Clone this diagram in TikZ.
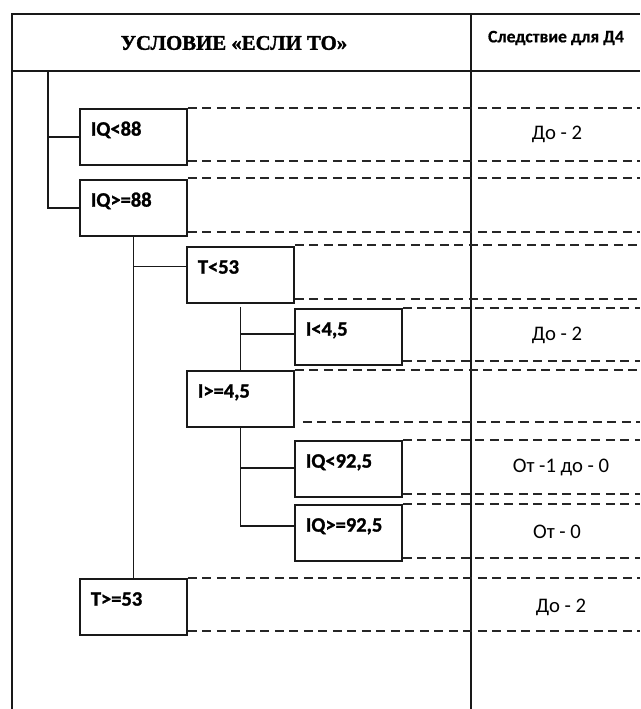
\documentclass[tikz,border=0pt]{standalone}
\usepackage{fontspec}
\setmainfont{Carlito}
\newfontfamily\titlefont{Liberation Serif Bold}[FakeBold=1.6]
\newfontfamily\boldsans{Carlito Bold}[FakeBold=1.2]
\newfontfamily\hdrsans{Carlito Bold}[FakeBold=0.6]
\tikzset{
  frameline/.style={line width=2pt, draw=black!90},
  conn/.style={line width=1.8pt, draw=black!90},
  dline/.style={line width=2pt, draw=black!85, dash pattern=on 9pt off 5.5pt},
  condbox/.style={draw=black!90, line width=1.8pt, rectangle, anchor=north west,
    minimum width=107pt, minimum height=56pt, text width=85pt, align=left,
    inner xsep=11pt, inner ysep=0pt, text height=13pt, text depth=15.5pt,
    font=\boldsans\fontsize{20.5}{20.5}\selectfont},
  result/.style={font=\fontsize{20.7}{20.7}\selectfont, inner sep=0pt},
  hdr/.style={inner sep=0pt}
}
\begin{document}
\begin{tikzpicture}[x=1pt,y=-1pt]
\useasboundingbox (0,0) rectangle (640,709);
% frame
\coordinate (tl) at (12,14);
\coordinate (tr) at (640,14);
\coordinate (bl) at (12,709);
\coordinate (hl) at (12,71);
\coordinate (hr) at (640,71);
\coordinate (ct) at (471,14);
\coordinate (cb) at (471,709);
\draw[frameline, line width=2.6pt] (bl) -- (tl) -- (tr);
\draw[frameline] (hl) -- (hr);
\draw[frameline] (ct) -- (cb);
% header
\node[hdr, font=\titlefont\fontsize{20.8}{20.8}\selectfont] (title) at (234,43) {УСЛОВИЕ «ЕСЛИ ТО»};
\node[hdr, font=\hdrsans\fontsize{17.6}{17.6}\selectfont] (conseq) at (556,38) {Следствие для Д4};
% boxes
\node[condbox] (q1) at (79,108) {IQ<88};
\node[condbox] (q2) at (79,179) {IQ>=88};
\node[condbox] (t1) at (186,246) {T<53};
\node[condbox] (i1) at (294,308) {I<4,5};
\node[condbox] (i2) at (186,370) {I>=4,5};
\node[condbox] (r1) at (294,440) {IQ<92,5};
\node[condbox] (r2) at (294,504) {IQ>=92,5};
\node[condbox] (t2) at (79,578) {T>=53};
% tree connectors
\coordinate (trunk) at (48,71);
\draw[conn] (trunk) |- (q2.west);
\draw[conn] (trunk |- q1.west) -- (q1.west);
\draw[conn] (q2.south) -- (t2.north);
\coordinate (t1h) at ([yshift=8.5pt]t1.west);
\draw[conn] (q2.south |- t1h) -- (t1h);
\coordinate (t1s) at ([yshift=-3pt]t1.south);
\draw[conn] (t1s) -- (t1s |- i2.north);
\coordinate (i1h) at ([yshift=3pt]i1.west);
\draw[conn] (t1s |- i1h) -- (i1h);
\coordinate (r2h) at ([yshift=7pt]r2.west);
\draw[conn] (i2.south) -- (i2.south |- r2h) -- (r2h);
\coordinate (r1h) at ([yshift=1.3pt]r1.west);
\draw[conn] (i2.south |- r1h) -- (r1h);
% dashed guide lines
\coordinate (E) at (640,0);
\foreach \b/\dt in {q1/0, q2/0.7, t1/1.5, i1/-0.3, i2/0.5, r1/0, r2/0, t2/0.3}{
  \draw[dline] ([yshift=\dt pt]\b.north east) -- ([yshift=\dt pt]\b.north east -| E);
}
\foreach \b/\db in {q1/4.7, q2/4.7, t1/4.7, i1/4.7, r1/4.3, r2/4.3, t2/4.7}{
  \draw[dline] ([yshift=\db pt]\b.south east) -- ([yshift=\db pt]\b.south east -| E);
}
\draw[dline] ([shift={(8pt,6pt)}]i2.south east) -- ([yshift=6pt]i2.south east -| E);
% results
\node[result] (res1) at (557,134) {До - 2};
\node[result] (res2) at (557,335) {До - 2};
\node[result] (res3) at (561,467) {От -1 до - 0};
\node[result] (res4) at (557,532) {От - 0};
\node[result] (res5) at (561,607) {До - 2};
\end{tikzpicture}
\end{document}
